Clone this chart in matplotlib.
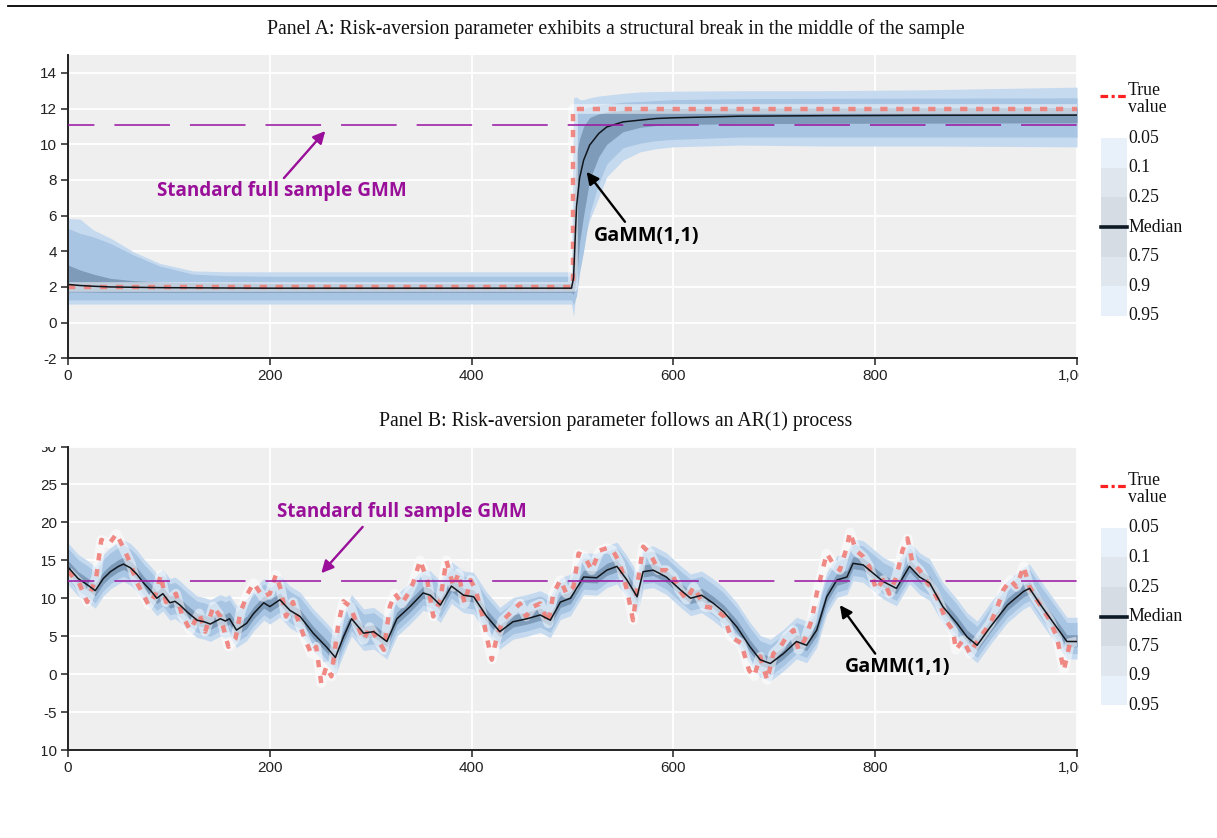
import numpy as np
import matplotlib
matplotlib.use("Agg")
import matplotlib.pyplot as plt
from matplotlib.lines import Line2D
from matplotlib.patches import Rectangle
from matplotlib.transforms import Bbox
from matplotlib.ticker import FuncFormatter

plt.rcParams['axes.unicode_minus'] = False
plt.rcParams['lines.scale_dashes'] = False

# ---------------- Panel A data ----------------
tA = [0, 12, 25, 42, 65, 91, 124, 157, 200, 300, 400, 499, 501, 504, 507, 511, 517, 526,
      534, 550, 567, 583, 600, 666, 750, 850, 1000]
medA = [2.14, 2.08, 2.04, 2.0, 1.98, 1.96, 1.95, 1.94, 1.93, 1.93, 1.93, 1.93, 2.5, 6.5, 8.1,
        9.1, 9.95, 10.6, 10.97, 11.25, 11.35, 11.44, 11.48, 11.57, 11.6, 11.62, 11.63]
q95A = [5.84, 5.8, 5.2, 4.74, 3.97, 3.32, 2.9, 2.85, 2.85, 2.85, 2.85, 2.85, 12.6, 12.66, 12.5,
        12.5, 12.6, 12.7, 12.75, 12.85, 12.93, 12.95, 12.97, 13.0, 13.0, 13.05, 13.2]
q90A = [5.28, 5.0, 4.81, 4.44, 3.79, 3.17, 2.72, 2.63, 2.6, 2.6, 2.6, 2.6, 11.5, 11.8, 11.9,
        12.0, 12.1, 12.2, 12.25, 12.35, 12.4, 12.45, 12.5, 12.55, 12.57, 12.58, 12.6]
q75A = [3.23, 2.95, 2.72, 2.48, 2.35, 2.27, 2.24, 2.22, 2.2, 2.2, 2.2, 2.2, 6.0, 9.5, 10.3,
        11.0, 11.5, 11.7, 11.8, 11.9, 11.95, 12.0, 12.0, 12.02, 12.03, 12.04, 12.05]
q25A = [1.72, 1.72, 1.71, 1.7, 1.7, 1.7, 1.7, 1.7, 1.7, 1.7, 1.7, 1.7, 1.6, 2.5, 4.5,
        6.0, 8.0, 9.3, 10.0, 10.7, 10.95, 11.05, 11.1, 11.15, 11.17, 11.18, 11.2]
q10A = [1.27, 1.27, 1.27, 1.27, 1.27, 1.27, 1.27, 1.27, 1.27, 1.27, 1.27, 1.27, 1.0, 1.5, 2.8,
        4.0, 6.1, 7.8, 8.9, 9.8, 10.06, 10.2, 10.27, 10.4, 10.4, 10.4, 10.4]
q05A = [1.04, 1.04, 1.04, 1.04, 1.04, 1.04, 1.04, 1.04, 1.04, 1.04, 1.04, 1.04, 0.33, 2.0, 3.3,
        4.6, 5.75, 7.0, 8.17, 9.1, 9.57, 9.75, 9.85, 9.95, 9.9, 9.9, 9.85]
trueA_t = [0, 500, 500, 1000]
trueA_v = [2, 2, 12, 12]
gmmA = 11.1

# ---------------- Panel B data ----------------
tB_med = [0, 10, 20, 27, 35, 42, 50, 55, 62, 68, 75, 82, 88, 94, 101, 106, 111, 118, 128, 135,
          141, 151, 156, 160, 167, 177, 184, 194, 200, 210, 220, 230, 243, 256, 265, 273, 281,
          288, 293, 303, 316, 326, 339, 352, 359, 369, 380, 392, 402, 415, 428, 441, 455, 468,
          478, 488, 498, 511, 524, 534, 544, 554, 564, 570, 580, 593, 607, 617, 628, 640, 650,
          663, 676, 686, 696, 709, 722, 732, 742, 752, 762, 772, 778, 788, 798, 808, 821, 834,
          844, 854, 867, 881, 891, 901, 914, 931, 947, 953, 963, 977, 990, 1000]
medB = [14.1, 12.6, 11.7, 11.0, 12.6, 13.5, 14.2, 14.5, 14.0, 13.2, 12.0, 11.0, 10.0, 10.6, 9.4,
        9.6, 9.1, 8.2, 7.1, 6.9, 6.6, 7.3, 7.0, 7.3, 5.8, 6.7, 8.0, 9.4, 8.9, 9.8, 8.4, 7.6, 5.4,
        3.6, 2.2, 4.9, 7.3, 6.2, 5.4, 5.6, 4.3, 7.3, 8.9, 10.7, 10.4, 9.1, 11.6, 10.4, 10.2, 7.6,
        5.6, 6.9, 7.3, 7.8, 7.1, 9.5, 10.0, 12.8, 12.7, 13.7, 14.2, 12.4, 10.2, 13.5, 13.7, 12.8,
        11.1, 10.0, 10.4, 9.3, 8.2, 6.2, 3.6, 1.9, 1.4, 2.7, 4.3, 3.8, 5.8, 10.2, 12.4, 12.8,
        14.6, 14.4, 13.3, 12.2, 11.3, 14.2, 12.8, 12.0, 8.9, 6.7, 4.9, 3.8, 6.2, 9.1, 10.9, 11.3,
        9.3, 6.7, 4.3, 4.3]
tB_true = [0, 3, 11, 19, 28, 33, 41, 48, 55, 62, 67, 74, 80, 87, 92, 97, 107, 113, 121, 130, 136,
           144, 151, 159, 166, 171, 178, 184, 193, 200, 206, 211, 216, 223, 228, 234, 241, 246,
           251, 256, 261, 268, 273, 280, 286, 293, 299, 309, 313, 319, 324, 331, 337, 342, 349,
           356, 362, 369, 375, 382, 387, 393, 399, 404, 411, 415, 420, 425, 431, 441, 448, 454,
           461, 468, 476, 481, 488, 494, 501, 506, 512, 519, 527, 534, 540, 547, 554, 560, 565,
           570, 577, 585, 593, 600, 606, 613, 620, 631, 640, 650, 657, 667, 675, 680, 686, 693,
           699, 706, 712, 719, 724, 730, 737, 742, 747, 752, 758, 765, 772, 775, 781, 788, 794,
           801, 808, 814, 821, 827, 832, 837, 844, 850, 857, 864, 870, 877, 880, 887, 894, 900,
           907, 914, 920, 927, 934, 940, 947, 953, 960, 967, 973, 980, 987, 993, 1000]
trueB = [13.5, 13.1, 12.0, 9.5, 12.8, 17.7, 17.2, 18.5, 16.6, 14.6, 12.4, 10.6, 9.1, 10.6, 13.1,
         9.5, 10.6, 7.8, 5.8, 8.0, 5.6, 8.9, 7.6, 3.6, 4.7, 8.2, 10.6, 12.0, 10.2, 10.6, 13.1,
         11.1, 7.6, 9.5, 7.1, 4.9, 2.7, 3.6, -1.2, 1.0, -0.3, 6.7, 9.6, 8.9, 6.7, 4.5, 6.2, 4.1,
         3.2, 8.9, 10.6, 9.3, 10.6, 12.0, 15.0, 12.4, 7.6, 9.8, 15.0, 11.5, 13.3, 9.3, 12.4, 11.1,
         7.6, 4.9, 1.9, 4.9, 7.1, 8.4, 9.3, 7.6, 8.9, 9.3, 6.7, 10.6, 12.4, 10.6, 11.5, 15.9, 15.5,
         13.7, 16.3, 16.6, 16.3, 14.6, 11.1, 7.1, 12.4, 16.8, 15.9, 13.7, 13.7, 12.8, 11.1, 9.8,
         11.5, 8.9, 8.7, 7.6, 4.9, 4.1, 0.5, -0.3, 2.3, -0.8, 2.7, 3.6, 4.9, 5.8, 3.2, 4.5, 7.1,
         10.6, 13.3, 15.9, 14.6, 13.7, 16.8, 18.7, 16.3, 15.5, 14.2, 11.1, 12.4, 10.6, 12.8, 16.3,
         17.9, 14.6, 13.7, 12.4, 11.1, 9.3, 7.1, 5.8, 3.2, 4.5, 2.7, 4.1, 5.4, 6.7, 8.4, 11.1,
         12.4, 11.5, 14.2, 11.5, 9.8, 8.4, 7.1, 4.9, 0.5, 4.1, 4.3]
# typical quantile offsets from the median in panel B (q05, q10, q25, q75, q90, q95)
band_offsets_B = [-2.3, -1.6, -0.7, 0.9, 2.5, 3.2]
gmmB = 12.3

legend_labels = ["0.05", "0.1", "0.25", "Median", "0.75", "0.9", "0.95"]

# ---------------- styling ----------------
W, H = 1217, 838
BG = '#efefef'
C95 = '#c6daef'
C90 = '#a8c5e3'
C75 = '#7f9bba'
RED = '#f0807a'
PURPLE = '#9c1aa3'
PURPLE_TXT = '#990f99'
SERIF = ['Liberation Serif', 'DejaVu Serif']
SANS = ['Liberation Sans', 'DejaVu Sans']
ANN = ['Open Sans', 'DejaVu Sans']

fig = plt.figure(figsize=(W / 100, H / 100), dpi=100)
fig.patch.set_facecolor('white')


def fx(px):
    return px / W


def fy(py):
    return 1 - py / H


def setup_axes(ax, ylim, yticks):
    ax.set_facecolor(BG)
    ax.set_xlim(0, 1000)
    ax.set_ylim(*ylim)
    ax.set_xticks([0, 200, 400, 600, 800, 1000])
    ax.set_yticks(yticks)
    ax.xaxis.set_major_formatter(FuncFormatter(lambda v, p: f"{v:,.0f}"))
    ax.yaxis.set_major_formatter(FuncFormatter(lambda v, p: f"{v:.0f}"))
    ax.grid(True, color='white', lw=1.3, zorder=0)
    ax.set_axisbelow(True)
    for s in ['top', 'right']:
        ax.spines[s].set_visible(False)
    for s in ['left', 'bottom']:
        ax.spines[s].set_linewidth(1.4)
        ax.spines[s].set_color('#222222')
    ax.tick_params(direction='out', length=5, width=1.1, color='#222222',
                   labelsize=11, labelcolor='#222222', pad=3)
    for lab in ax.get_xticklabels() + ax.get_yticklabels():
        lab.set_fontfamily(SANS)


def draw_bands(ax, t, q05, q10, q25, q75, q90, q95):
    ax.fill_between(t, q05, q95, color=C95, lw=0, zorder=1)
    ax.fill_between(t, q10, q90, color=C90, lw=0, zorder=1.1)
    ax.fill_between(t, q25, q75, color=C75, lw=0, zorder=1.2)


def draw_true(ax, t, v):
    ax.plot(t, v, color='white', lw=7, alpha=0.5, solid_capstyle='butt', zorder=2)
    ax.plot(t, v, color=RED, lw=3.2, alpha=0.92, linestyle=(0, (5.2, 6.3)),
            dash_capstyle='butt', zorder=2.1)


def draw_gmm(ax, v):
    ax.plot([0, 1000], [v, v], color=PURPLE, lw=1.15,
            linestyle=(21, (40, 14.4)), zorder=3)


def draw_legend(yoff):
    # true value
    fig.add_artist(Line2D([fx(1100), fx(1127)], [fy(96.5 + yoff)] * 2, color='#ff2020',
                          lw=2.3, linestyle=(0, (5.5, 2.5, 2.2, 2.5)), dash_capstyle='butt'))
    fig.text(fx(1128), fy(90.5 + yoff), "True", family=SERIF, fontsize=12.8,
             ha='left', va='center', color='#111111')
    fig.text(fx(1128), fy(108 + yoff), "value", family=SERIF, fontsize=12.8,
             ha='left', va='center', color='#111111')
    ys = [138.3, 167.9, 197.5, 227.0, 256.6, 286.2, 315.8]
    seg_cols = ['#e8f0fa', '#dfe6ee', '#d5dce3', '#d5dce3', '#dfe6ee', '#e8f0fa']
    for i in range(6):
        y0 = ys[i] + yoff
        y1 = ys[i + 1] + yoff
        fig.add_artist(Rectangle((fx(1100.5), fy(y1)), fx(1126.7) - fx(1100.5), fy(y0) - fy(y1),
                                 transform=fig.transFigure, facecolor=seg_cols[i], lw=0))
    fig.add_artist(Line2D([fx(1100.5), fx(1127)], [fy(227 + yoff)] * 2, color='#0d1a26', lw=2.6))
    for lab, y in zip(legend_labels, ys):
        fig.text(fx(1128.5), fy(y + yoff), lab, family=SERIF, fontsize=12.8,
                 ha='left', va='center', color='#111111')


# ---------------- top rule & titles ----------------
fig.add_artist(Line2D([fx(8), 1.0], [fy(6.5)] * 2, color='black', lw=1.3))
fig.text(fx(616), fy(29), "Panel A: Risk-aversion parameter exhibits a structural break in the middle of the sample",
         family=SERIF, fontsize=14.2, ha='center', va='center', color='#111111')
fig.text(fx(616), fy(421), "Panel B: Risk-aversion parameter follows an AR(1) process",
         family=SERIF, fontsize=14.2, ha='center', va='center', color='#111111')

# ---------------- Panel A ----------------
axA = fig.add_axes([fx(68), fy(358.3), fx(1077) - fx(68), fy(55) - fy(358.3)])
setup_axes(axA, (-2, 15), list(range(-2, 15, 2)))
draw_bands(axA, tA, q05A, q10A, q25A, q75A, q90A, q95A)
draw_true(axA, trueA_t, trueA_v)
axA.plot(tA, medA, color='#10161c', lw=1.1, zorder=2.5)
draw_gmm(axA, gmmA)
axA.text(212, 7.4, "Standard full sample GMM", family=ANN, fontweight='bold', fontsize=13.6,
         color=PURPLE_TXT, ha='center', va='center', zorder=5)
axA.annotate('', xy=(255, 10.74), xytext=(214, 8.1),
             arrowprops=dict(arrowstyle='-|>', color=PURPLE_TXT, lw=1.7, mutation_scale=18,
                             shrinkA=0, shrinkB=0), zorder=5)
axA.text(573, 4.85, "GaMM(1,1)", family=ANN, fontweight='bold', fontsize=14.2,
         color='black', ha='center', va='center', zorder=5)
axA.annotate('', xy=(514, 8.45), xytext=(552, 5.65),
             arrowprops=dict(arrowstyle='-|>', color='black', lw=1.7, mutation_scale=18,
                             shrinkA=0, shrinkB=0), zorder=5)
draw_legend(0)

# ---------------- Panel B ----------------
axB = fig.add_axes([fx(68), fy(750), fx(1077) - fx(68), fy(446.5) - fy(750)])
setup_axes(axB, (-10, 30), list(range(-10, 31, 5)))
bandsB = [[m + o for m in medB] for o in band_offsets_B]
draw_bands(axB, tB_med, bandsB[0], bandsB[1], bandsB[2], bandsB[3], bandsB[4], bandsB[5])
draw_true(axB, tB_true, trueB)
axB.plot(tB_med, medB, color='#10161c', lw=1.1, zorder=2.5)
draw_gmm(axB, gmmB)
axB.text(331, 21.4, "Standard full sample GMM", family=ANN, fontweight='bold', fontsize=13.6,
         color=PURPLE_TXT, ha='center', va='center', zorder=5)
axB.annotate('', xy=(251, 13.3), xytext=(292, 19.4),
             arrowprops=dict(arrowstyle='-|>', color=PURPLE_TXT, lw=1.7, mutation_scale=18,
                             shrinkA=0, shrinkB=0), zorder=5)
axB.text(822, 0.94, "GaMM(1,1)", family=ANN, fontweight='bold', fontsize=14.2,
         color='black', ha='center', va='center', zorder=5)
axB.annotate('', xy=(765, 9.1), xytext=(800, 2.7),
             arrowprops=dict(arrowstyle='-|>', color='black', lw=1.7, mutation_scale=18,
                             shrinkA=0, shrinkB=0), zorder=5)
draw_legend(389.5)

# ---------------- clip tick labels like the reference ----------------
fig.canvas.draw()
xclip = Bbox.from_extents(0, 0, 1078.5, H)
for ax in (axA, axB):
    for lab in ax.get_xticklabels():
        lab.set_clip_box(xclip)
        lab.set_clip_on(True)
yclipB = Bbox.from_extents(42, 0, W, H - 446.5)
for lab in axB.get_yticklabels():
    lab.set_clip_box(yclipB)
    lab.set_clip_on(True)

fig.savefig("out.png", dpi=100, facecolor='white')
